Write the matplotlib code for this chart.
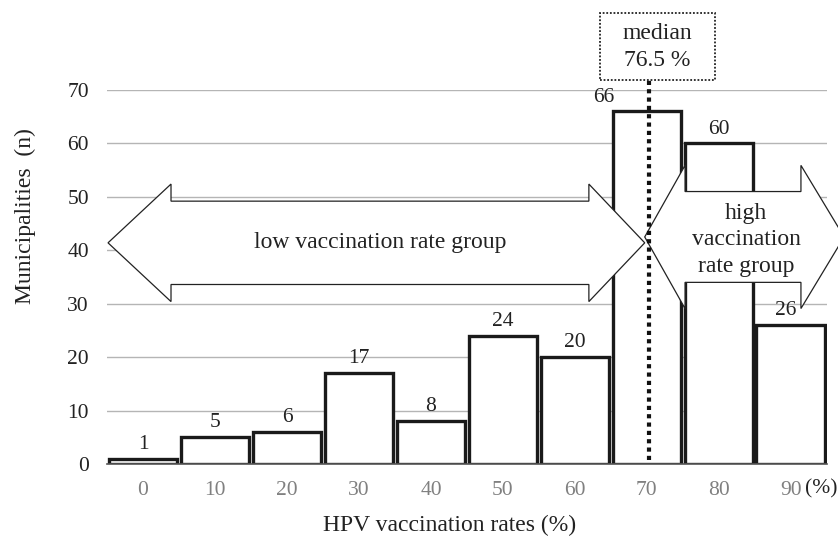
import matplotlib.pyplot as plt
from matplotlib.patches import Polygon, Rectangle

plt.rcParams['font.family'] = ['Liberation Serif', 'DejaVu Serif']

rates = [0, 10, 20, 30, 40, 50, 60, 70, 80, 90]
counts = [1, 5, 6, 17, 8, 24, 20, 66, 60, 26]
median_label = 'median\n76.5 %'
low_label = 'low vaccination rate group'
high_label = 'high\nvaccination\nrate group'

fig = plt.figure(figsize=(8.38, 5.42), dpi=100)
ax = fig.add_axes([0.1277, 0.1439, 0.859, 0.690])

pos = list(range(len(rates)))
ax.bar(pos, counts, width=0.955, color='white', edgecolor='#1a1a1a',
       linewidth=2.4, zorder=2)

# value labels
offsets = {7: -0.6, 9: -0.07}
for i, c in enumerate(counts):
    ax.text(i + offsets.get(i, 0), c + 0.9, str(c), ha='center', va='bottom',
            fontsize=15.5, color='#222222', zorder=6)

ax.set_xlim(-0.5, 9.5)
ax.set_ylim(0, 70)
ax.set_yticks(range(0, 71, 10))
ax.set_xticks(pos)
ax.set_xticklabels([str(r) for r in rates])
ax.tick_params(axis='x', length=0, pad=12, labelsize=15.5, labelcolor='#808080')
ax.tick_params(axis='y', length=0, pad=13, labelsize=15.5, labelcolor='#222222')
ax.grid(axis='y', color='#b5b5b5', linewidth=1.0, zorder=0)
ax.set_axisbelow(True)
for s in ['top', 'right', 'left']:
    ax.spines[s].set_visible(False)
ax.spines['bottom'].set_color('#555555')
ax.spines['bottom'].set_linewidth(1.2)
ax.spines['bottom'].set_zorder(3)


def double_arrow(x0, x1, head0, head1, yc, hh, sh):
    pts = [(x0, yc), (head0, yc + hh), (head0, yc + sh), (head1, yc + sh),
           (head1, yc + hh), (x1, yc), (head1, yc - hh), (head1, yc - sh),
           (head0, yc - sh), (head0, yc - hh)]
    p = Polygon(pts, closed=True, facecolor='white', edgecolor='#222222',
                linewidth=0.9, zorder=4, clip_on=False)
    ax.add_patch(p)


double_arrow(-0.486, 6.97, 0.389, 6.194, 41.4, 11.0, 7.8)
double_arrow(6.97, 9.74, 7.53, 9.14, 42.5, 13.4, 8.5)

ax.text(3.3, 41.5, low_label, ha='center', va='center', fontsize=17,
        color='#222222', zorder=5)
ax.text(8.38, 42.0, high_label, ha='center', va='center', fontsize=17,
        color='#222222', linespacing=1.35, zorder=5)

# median line and box
ax.plot([7.03, 7.03], [0.8, 72.0], color='#111111', linestyle=(0, (1, 1)),
        linewidth=3.0, zorder=7, clip_on=False)
fig.add_artist(Rectangle((600 / 838, 1 - 80 / 542), 115 / 838, 67 / 542,
                         transform=fig.transFigure, facecolor='white',
                         edgecolor='#222222', linestyle=(0, (1, 1)),
                         linewidth=1.3))
fig.text(657 / 838, 1 - 47 / 542, median_label, ha='center', va='center',
         fontsize=17, color='#222222', linespacing=1.4)

fig.text(821 / 838, 1 - 489 / 542, '(%)', ha='center', va='center',
         fontsize=15.5, color='#222222')
fig.text(450 / 838, 1 - 525 / 542, 'HPV vaccination rates (%)', ha='center',
         va='center', fontsize=17, color='#222222')
fig.text(25 / 838, 1 - 216 / 542, 'Municipalities  (n)', ha='center',
         va='center', rotation=90, fontsize=17, color='#222222')

fig.savefig('out.png', dpi=100)
